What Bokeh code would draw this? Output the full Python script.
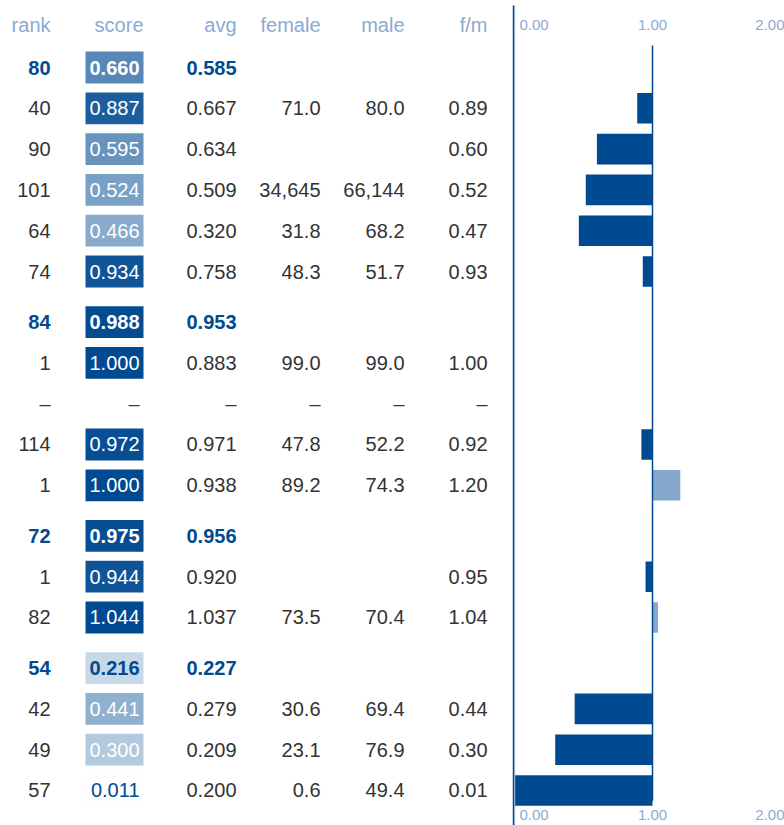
import numpy as np
from bokeh.plotting import figure
from bokeh.layouts import row
from bokeh.models import ColumnDataSource, Range1d, LinearColorMapper
from bokeh.core.properties import value
from bokeh.embed import file_html
from bokeh.resources import INLINE

# ---------------- data ----------------
group = [0, 0, 0, 0, 0, 0, 1, 1, 1, 1, 1, 2, 2, 2, 3, 3, 3, 3]
is_head = [1, 0, 0, 0, 0, 0, 1, 0, 0, 0, 0, 1, 0, 0, 1, 0, 0, 0]
rank = ["80", "40", "90", "101", "64", "74", "84", "1", "–", "114", "1", "72", "1", "82", "54", "42", "49", "57"]
score = [0.660, 0.887, 0.595, 0.524, 0.466, 0.934, 0.988, 1.000, "–", 0.972, 1.000, 0.975, 0.944, 1.044, 0.216, 0.441, 0.300, 0.011]
avg = [0.585, 0.667, 0.634, 0.509, 0.320, 0.758, 0.953, 0.883, "–", 0.971, 0.938, 0.956, 0.920, 1.037, 0.227, 0.279, 0.209, 0.200]
female = [None, 71.0, None, 34645, 31.8, 48.3, None, 99.0, "–", 47.8, 89.2, None, None, 73.5, None, 30.6, 23.1, 0.6]
male = [None, 80.0, None, 66144, 68.2, 51.7, None, 99.0, "–", 52.2, 74.3, None, None, 70.4, None, 69.4, 76.9, 49.4]
fm = [None, 0.89, 0.60, 0.52, 0.47, 0.93, None, 1.00, "–", 0.92, 1.20, None, 0.95, 1.04, None, 0.44, 0.30, 0.01]
headers = ["rank", "score", "avg", "female", "male", "f/m"]
axis_ticks = [0.0, 1.0, 2.0]

# ---------------- style / layout ----------------
FONT = value("Liberation Sans")
FS = "20px"
DARK = "#004a91"
LIGHT_BAR = "#85a8cc"
HEAD_C = "#8aabd2"
GRAY = "#333333"
ROW_PX = 40.8
GAP = 0.24
W_LEFT, W_RIGHT, H = 508, 276, 825
FIRST_ROW_PX = 67          # first row centre, px from figure top
PX_PER_UNIT = 139.0
AXIS_OFFSET_PX = 5         # axis line px from right-figure left edge

col_x = [50, 139, 236, 320, 404, 487]      # right edges of text columns (left figure px)
head_x = [50, 143, 236, 320, 404, 487]
box_cx, box_w = 114, 58

ys = [i + GAP * g for i, g in enumerate(group)]
top = -FIRST_ROW_PX / ROW_PX
bottom = top + H / ROW_PX
y_range = Range1d(start=bottom, end=top)
head_y = ys[0] - 1.03
foot_y = ys[-1] + 0.6


def fmt(v, spec):
    if v is None:
        return ""
    if isinstance(v, str):
        return v
    return format(v, spec)


def fmt_pop(v):
    if v is None or isinstance(v, str):
        return fmt(v, "")
    return format(v, ",.0f") if v >= 1000 else format(v, ".1f")


def base_fig(width, x_range):
    p = figure(width=width, height=H, x_range=x_range, y_range=y_range,
               output_backend="svg", toolbar_location=None, min_border=0,
               outline_line_color=None, background_fill_color="white",
               border_fill_color="white")
    p.axis.visible = False
    p.grid.visible = False
    return p


# ---------------- left: table ----------------
left = base_fig(W_LEFT, Range1d(0, W_LEFT))

c_lo, c_hi = np.array([255, 255, 255]), np.array([0, 74, 145])
mapper = LinearColorMapper(
    palette=["#%02x%02x%02x" % tuple(int(round(c)) for c in c_lo + (c_hi - c_lo) * t)
             for t in np.linspace(0, 1, 256)],
    low=0, high=1, high_color=DARK)

box_idx = [i for i, s in enumerate(score) if not isinstance(s, str)]
box_src = ColumnDataSource(dict(y=[ys[i] for i in box_idx], score=[score[i] for i in box_idx]))
left.rect(x=box_cx, y="y", width=box_w, height=0.78, source=box_src,
          fill_color={"field": "score", "transform": mapper}, line_color=None)

cells = {"normal": dict(x=[], y=[], t=[], c=[]), "bold": dict(x=[], y=[], t=[], c=[])}
for i in range(len(rank)):
    kind = "bold" if is_head[i] else "normal"
    s = score[i]
    if isinstance(s, str):
        s_col = DARK
    else:
        s_col = "white" if s >= 0.25 else DARK
    vals = [
        (rank[i], DARK if is_head[i] else GRAY),
        (fmt(s, ".3f"), s_col),
        (fmt(avg[i], ".3f"), DARK if is_head[i] else GRAY),
        (fmt_pop(female[i]), GRAY),
        (fmt_pop(male[i]), GRAY),
        (fmt(fm[i], ".2f"), GRAY),
    ]
    for k, (t, c) in enumerate(vals):
        if t == "":
            continue
        d = cells[kind]
        d["x"].append(col_x[k]); d["y"].append(ys[i]); d["t"].append(t); d["c"].append(c)

for kind, d in cells.items():
    left.text(x="x", y="y", text="t", text_color="c", source=ColumnDataSource(d),
              text_align="right", text_baseline="middle", text_font=FONT,
              text_font_size=FS, text_font_style=kind)

left.text(x=head_x, y=[head_y] * len(headers), text=headers, text_color=HEAD_C,
          text_align="right", text_baseline="middle", text_font=FONT, text_font_size=FS)

# ---------------- right: f/m bars ----------------
x0 = -AXIS_OFFSET_PX / PX_PER_UNIT
x_end = x0 + W_RIGHT / PX_PER_UNIT
right = base_fig(W_RIGHT, Range1d(x0, x_end))

bar_idx = [i for i, v in enumerate(fm) if v is not None and not isinstance(v, str) and not is_head[i]]
bar_src = ColumnDataSource(dict(
    y=[ys[i] for i in bar_idx],
    left=[min(fm[i], 1.0) for i in bar_idx],
    right=[max(fm[i], 1.0) for i in bar_idx],
    color=[DARK if fm[i] < 1.0 else LIGHT_BAR for i in bar_idx],
))
right.hbar(y="y", left="left", right="right", height=0.75, source=bar_src,
           fill_color="color", line_color=None)

# axis line at 0 (with faint light companion) and reference line at 1
right.segment(x0=[axis_ticks[0] + 1.2 / PX_PER_UNIT], y0=[top + 5 / ROW_PX],
              x1=[axis_ticks[0] + 1.2 / PX_PER_UNIT], y1=[bottom],
              line_color="#b7cde4", line_width=1)
right.segment(x0=[axis_ticks[0]], y0=[top + 5 / ROW_PX], x1=[axis_ticks[0]], y1=[bottom],
              line_color=DARK, line_width=1.5)
right.segment(x0=[axis_ticks[1]], y0=[ys[0] - 0.54], x1=[axis_ticks[1]], y1=[ys[-1] + 0.25],
              line_color=DARK, line_width=1.5)

tick_text = [format(t, ".2f") for t in axis_ticks]
tick_pos = [axis_ticks[0] + 6 / PX_PER_UNIT, axis_ticks[1], min(axis_ticks[2], x_end)]
tick_align = ["left", "center", "right"]
for yy in (head_y, foot_y):
    for t, xp, al in zip(tick_text, tick_pos, tick_align):
        right.text(x=[xp], y=[yy], text=[t], text_color=HEAD_C, text_align=al,
                   text_baseline="middle", text_font=FONT, text_font_size="15px")

layout = row(left, right)
open("out.html", "w").write(file_html(layout, INLINE))
